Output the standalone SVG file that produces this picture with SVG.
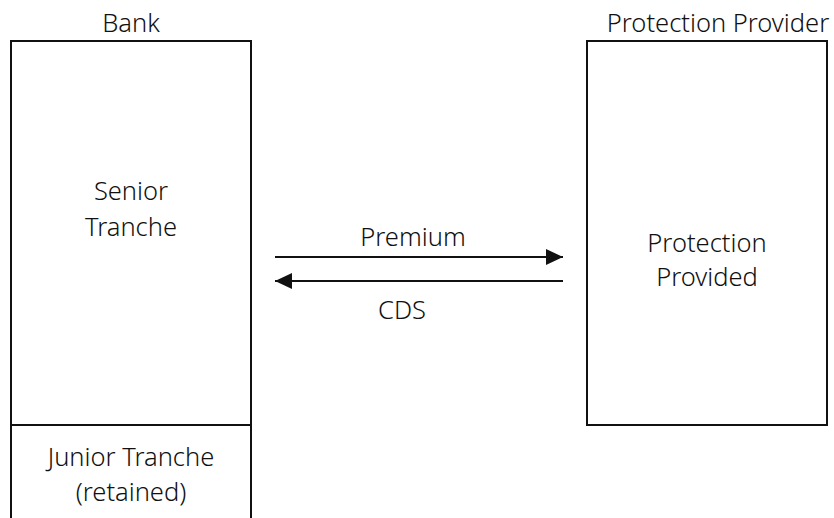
<svg xmlns="http://www.w3.org/2000/svg" width="834" height="518" viewBox="0 0 834 518">
<style>
text{font-family:"Noto Sans","Open Sans","DejaVu Sans",sans-serif;font-size:25.5px;font-weight:300;fill:#111;text-anchor:middle}
.box{fill:#fff;stroke:#111;stroke-width:2}
.conn{stroke:#111;stroke-width:2;fill:none}
</style>
<defs>
<marker id="ah" viewBox="0 0 17 16" refX="17" refY="8" markerWidth="17" markerHeight="16" markerUnits="userSpaceOnUse" orient="auto"><path d="M0,0L17,8L0,16z" fill="#111"/></marker>
</defs>
<rect width="834" height="518" fill="#fff"/>
<g id="bank">
<text x="131" y="32">Bank</text>
<path class="box" d="M11,520V41H251V520"/>
<line class="conn" x1="11" y1="425" x2="251" y2="425"/>
</g>
<g id="senior">
<text x="131" y="200">Senior</text>
<text x="131" y="236">Tranche</text>
</g>
<g id="junior">
<text x="131" y="466">Junior Tranche</text>
<text x="131" y="501">(retained)</text>
</g>
<g id="provider">
<text x="718" y="32">Protection Provider</text>
<rect class="box" x="587" y="41" width="240" height="384"/>
<text x="707" y="252">Protection</text>
<text x="707" y="286">Provided</text>
</g>
<g id="connectors">
<line class="conn" x1="275" y1="257" x2="563" y2="257" marker-end="url(#ah)"/>
<line class="conn" x1="563" y1="281" x2="275" y2="281" marker-end="url(#ah)"/>
<text x="413" y="246">Premium</text>
<text x="402" y="319">CDS</text>
</g>
</svg>
